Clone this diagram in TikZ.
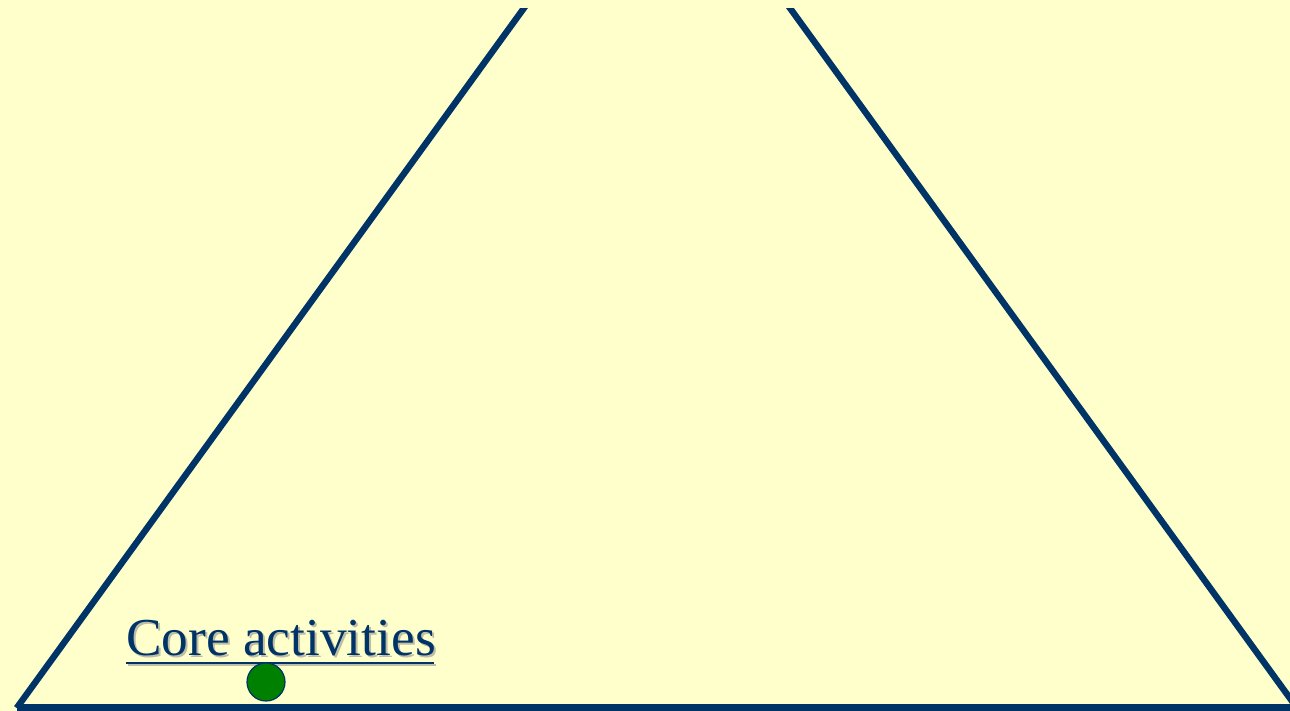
\documentclass[tikz,border=0pt]{standalone}
\usepackage{fontspec}
\setmainfont{Liberation Serif}
\definecolor{bg}{HTML}{FFFFCC}
\definecolor{navy}{HTML}{003366}
\definecolor{shadowgrey}{HTML}{BDBDA8}
\definecolor{dotgreen}{HTML}{008000}
\tikzset{
  edgeline/.style={draw=navy, line width=4.8pt},
  labeltext/.style={inner sep=0pt, anchor=base west, font=\fontsize{40}{44}\selectfont},
}
\begin{document}
\begin{tikzpicture}[x=0.75pt, y=-0.75pt]
\useasboundingbox (0,0) rectangle (1290,711);
\fill[bg] (0,0) rectangle (1290,711);
\begin{scope}
\clip (0,8) rectangle (1290,711);
\coordinate (apex) at (657,-175.5);
\coordinate (bl) at (16.7,708);
\coordinate (br) at (1297,708);
\draw[edgeline] (bl) -- (apex) -- (br);
\draw[navy, line width=5.5pt] (bl) -- (br);
\end{scope}
% label with shadow
\node[labeltext, text=shadowgrey] (lblshadow) at (128,657) {Core activities};
\draw[shadowgrey, line width=2.2pt] (128,665) -- (436,665);
\node[labeltext, text=navy] (lbl) at (126,655) {Core activities};
\draw[navy, line width=2.2pt] (126,663) -- (434,663);
\node[circle, fill=dotgreen, draw=navy, line width=0.9pt, minimum size=28.5pt, inner sep=0pt] (dot) at (266,682) {};
\end{tikzpicture}
\end{document}
